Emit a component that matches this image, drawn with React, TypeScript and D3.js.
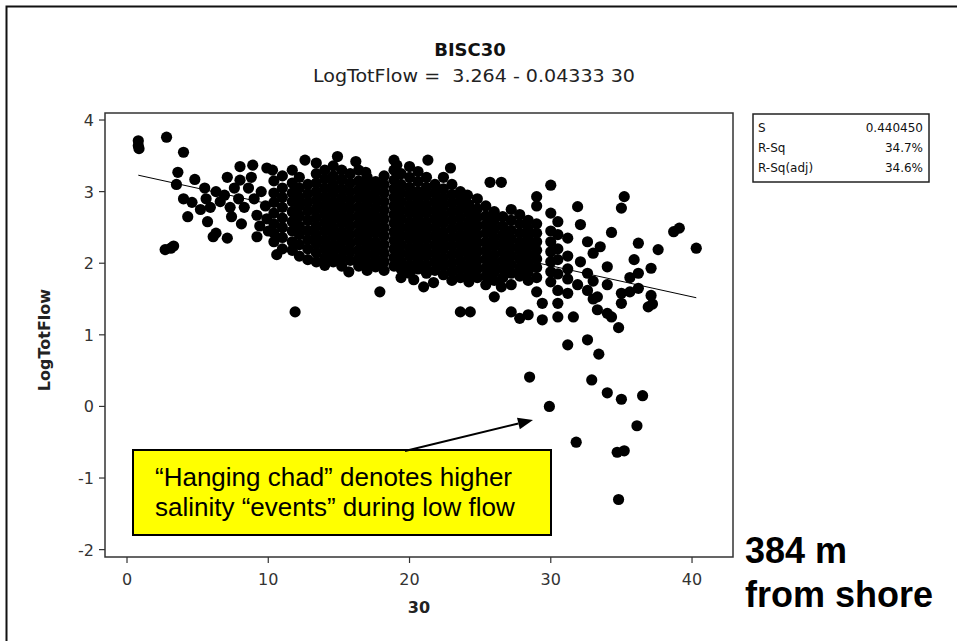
import React from "react";
import * as d3 from "d3";

const titleText = "BISC30";
const subtitleText = "LogTotFlow =  3.264 - 0.04333 30";
const xLabel = "30";
const yLabel = "LogTotFlow";
const xTicks = [0, 10, 20, 30, 40];
const yTicks = [-2, -1, 0, 1, 2, 3, 4];
const intercept = 3.264;
const slope = -0.04333;
const fitRange = [0.8, 40.3];
const statLabels = ["S", "R-Sq", "R-Sq(adj)"];
const statValues = ["0.440450", "34.7%", "34.6%"];
const noteLines = ["\u201CHanging chad\u201D denotes higher", "salinity \u201Cevents\u201D during low flow"];
const sideLines = ["384 m", "from shore"];

// [station value, LogTotFlow]
const leftPoints: [number, number][] = [
  [0.8, 3.71], [0.8, 3.64], [0.85, 3.6], [2.8, 3.76], [2.7, 2.19], [3.1, 2.21], [3.3, 2.24],
  [4.0, 3.55], [3.6, 3.27], [3.5, 3.1], [4.0, 2.9], [4.3, 2.65], [4.8, 3.17], [4.6, 2.85],
  [5.2, 2.75], [5.5, 3.05], [5.7, 2.58], [5.6, 2.9], [5.9, 2.78], [6.1, 2.37], [6.3, 2.42],
  [6.3, 3.0], [6.6, 2.86], [6.9, 2.95], [7.1, 3.2], [7.1, 2.35], [7.4, 2.65], [7.3, 2.78],
  [7.6, 3.05], [8.0, 3.35], [8.0, 3.16], [7.9, 2.9], [8.3, 2.78], [8.1, 2.55], [8.6, 3.05],
  [8.9, 3.37], [8.8, 3.2], [9.2, 2.67], [9.2, 2.37], [9.0, 2.9], [9.5, 3.0], [9.4, 2.52],
  [9.9, 3.33], [9.8, 2.8], [9.9, 2.62], [10.0, 2.45], [10.3, 3.3], [10.6, 2.12],
];

const denseColumns: [number, number[]][] = [
  [10.4, [3.15, 2.98, 2.85, 2.7, 2.55, 2.42, 2.3]],
  [11.0, [3.22, 3.05, 2.92, 2.78, 2.63, 2.5, 2.36, 2.2]],
  [11.7, [3.3, 3.12, 2.98, 2.86, 2.72, 2.58, 2.45, 2.3, 2.18]],
  [11.9, [1.32]],
  [12.2, [3.2, 3.05, 2.92, 2.8, 2.66, 2.52, 2.4, 2.26, 2.1]],
  [12.6, [3.44]],
  [12.8, [3.1, 2.97, 2.85, 2.73, 2.6, 2.46, 2.33, 2.2, 2.05]],
  [13.4, [3.4, 3.25, 3.12, 3.0, 2.88, 2.76, 2.64, 2.52, 2.4, 2.28, 2.15, 2.02]],
  [14.0, [3.3, 3.18, 3.05, 2.93, 2.81, 2.69, 2.57, 2.45, 2.33, 2.21, 2.08, 1.97]],
  [14.6, [3.36, 3.22, 3.1, 2.98, 2.86, 2.74, 2.62, 2.5, 2.38, 2.26, 2.14, 2.02]],
  [14.9, [3.49]],
  [15.2, [3.3, 3.17, 3.04, 2.92, 2.8, 2.68, 2.56, 2.44, 2.32, 2.2, 2.08, 1.96]],
  [15.7, [1.88]],
  [15.8, [3.25, 3.12, 3.0, 2.88, 2.76, 2.64, 2.52, 2.4, 2.28, 2.16, 2.04]],
  [16.2, [3.42]],
  [16.4, [3.3, 3.15, 3.03, 2.91, 2.79, 2.67, 2.55, 2.43, 2.31, 2.19, 2.07, 1.96]],
  [16.9, [3.27]],
  [17.0, [3.2, 3.08, 2.96, 2.84, 2.72, 2.6, 2.48, 2.36, 2.24, 2.12, 2.0, 1.9]],
  [17.6, [3.14, 3.02, 2.9, 2.78, 2.66, 2.54, 2.42, 2.3, 2.18, 2.06, 1.95]],
  [17.9, [1.6]],
  [18.2, [3.22, 3.1, 2.98, 2.86, 2.74, 2.62, 2.5, 2.38, 2.26, 2.14, 2.02, 1.9]],
  [18.9, [3.44, 3.3, 3.16, 3.04, 2.92, 2.8, 2.68, 2.56, 2.44, 2.32, 2.2, 2.08, 1.96]],
  [19.1, [3.37]],
  [19.4, [3.25, 3.1, 2.98, 2.86, 2.74, 2.62, 2.5, 2.38, 2.26, 2.14, 2.02, 1.92, 1.8]],
  [20.0, [3.35, 3.2, 3.06, 2.94, 2.82, 2.7, 2.58, 2.46, 2.34, 2.22, 2.1, 1.98, 1.86]],
  [20.3, [1.77]],
  [20.6, [3.28, 3.14, 3.0, 2.88, 2.76, 2.64, 2.52, 2.4, 2.28, 2.16, 2.04, 1.92]],
  [21.0, [1.67]],
  [21.2, [3.2, 3.06, 2.94, 2.82, 2.7, 2.58, 2.46, 2.34, 2.22, 2.1, 1.98, 1.86]],
  [21.3, [3.44]],
  [21.7, [1.73]],
  [21.8, [3.1, 2.98, 2.86, 2.74, 2.62, 2.5, 2.38, 2.26, 2.14, 2.02, 1.9]],
  [22.4, [3.2, 3.04, 2.92, 2.8, 2.68, 2.56, 2.44, 2.32, 2.2, 2.08, 1.96, 1.84]],
  [22.9, [3.33]],
  [23.0, [3.1, 2.96, 2.84, 2.72, 2.6, 2.48, 2.36, 2.24, 2.12, 2.0, 1.88, 1.76]],
  [23.6, [3.0, 2.88, 2.76, 2.64, 2.52, 2.4, 2.28, 2.16, 2.04, 1.92, 1.8, 1.32]],
  [24.1, [2.95]],
  [24.2, [2.82, 2.7, 2.58, 2.46, 2.34, 2.22, 2.1, 1.98, 1.86, 1.74]],
  [24.3, [1.32]],
  [24.8, [2.9, 2.76, 2.64, 2.52, 2.4, 2.28, 2.16, 2.04, 1.92, 1.8]],
  [25.4, [2.8, 2.66, 2.54, 2.42, 2.3, 2.18, 2.06, 1.94, 1.82, 1.7]],
  [25.7, [3.13]],
  [26.0, [2.72, 2.6, 2.48, 2.36, 2.24, 2.12, 2.0, 1.88, 1.76, 1.53]],
  [26.5, [3.13, 1.67]],
  [26.6, [2.65, 2.52, 2.4, 2.28, 2.16, 2.04, 1.92, 1.8]],
  [27.2, [2.75, 2.6, 2.46, 2.34, 2.22, 2.1, 1.98, 1.86, 1.7, 1.32]],
  [27.8, [2.68, 2.55, 2.42, 2.3, 2.18, 2.06, 1.94, 1.82, 1.23]],
  [28.4, [2.6, 2.48, 2.36, 2.24, 2.12, 2.0, 1.88, 1.76, 1.28]],
  [28.5, [0.41]],
  [29.0, [2.93, 2.8, 2.55, 2.42, 2.3, 2.18, 2.06, 1.94, 1.8, 1.6]],
  [29.4, [1.44, 1.21]],
  [29.9, [0.0]],
  [30.0, [3.09, 2.7, 2.45, 2.3, 2.16, 2.02, 1.88, 1.74]],
  [30.5, [2.58, 2.4, 2.2, 2.05, 1.85, 1.62, 1.44, 1.25]],
  [31.2, [2.35, 2.1, 1.92, 1.78, 1.58, 0.86]],
  [31.6, [1.25]],
  [31.8, [-0.5]],
  [31.9, [2.79, 1.7]],
  [32.1, [2.54, 2.02]],
  [32.6, [2.3, 1.86, 1.62, 0.93]],
  [32.9, [0.37]],
  [33.0, [2.14, 1.75, 1.5]],
  [33.3, [1.53, 1.35]],
  [33.4, [0.73]],
  [33.5, [2.23]],
  [34.0, [1.95, 1.7, 1.3, 0.19]],
  [34.3, [2.43, 1.25]],
  [34.7, [-0.64]],
  [34.8, [1.1, -1.3]],
  [35.0, [2.77, 1.58, 1.44, 0.1]],
  [35.2, [2.93, -0.62]],
  [35.6, [1.8, 1.6]],
  [35.9, [2.05]],
  [36.1, [-0.27]],
  [36.2, [2.28, 1.86, 1.65]],
  [36.5, [0.15]],
  [36.9, [1.39]],
  [37.1, [1.93, 1.55]],
  [37.2, [1.43]],
  [37.6, [2.19]],
  [38.7, [2.44]],
  [39.1, [2.49]],
  [40.3, [2.21]],
];

const W = 957;
const H = 641;
const frame = { left: 105, right: 733, top: 113, bottom: 557 };

export default function App() {
  const x = d3.scaleLinear().domain([-1.558, 42.9]).range([frame.left, frame.right]);
  const y = d3.scaleLinear().domain([4.098, -2.103]).range([frame.top, frame.bottom]);

  const pts: [number, number][] = [...leftPoints];
  denseColumns.forEach(([cx, ys]) => ys.forEach((v) => pts.push([cx, v])));

  const fitLine = d3
    .line<number>()
    .x((d) => x(d))
    .y((d) => y(intercept + slope * d))(fitRange);

  const sans = "'DejaVu Sans', sans-serif";
  const arial = "'Liberation Sans', Arial, sans-serif";
  const ax1 = 405, ay1 = 451, ax2 = 533, ay2 = 420;
  const ang = Math.atan2(ay2 - ay1, ax2 - ax1);
  const hl = 15, hw = 6;
  const bx = ax2 - hl * Math.cos(ang), by = ay2 - hl * Math.sin(ang);
  const head = `M${ax2},${ay2} L${bx - hw * Math.sin(ang)},${by + hw * Math.cos(ang)} L${bx + hw * Math.sin(ang)},${by - hw * Math.cos(ang)} Z`;

  return (
    <div style={{ position: "fixed", left: 0, top: 0, width: W, height: H, background: "#fff" }}>
      <svg width={W} height={H} style={{ display: "block" }}>
        <rect x={0} y={0} width={W} height={H} fill="#fff" />
        <path d={`M6.5,${H} L6.5,6.5 L${W},6.5`} fill="none" stroke="#111" strokeWidth={2} />

        <text x={470} y={56} textAnchor="middle" fontFamily={sans} fontWeight="bold" fontSize={18} fill="#111">
          {titleText}
        </text>
        <text x={474} y={82} textAnchor="middle" fontFamily={sans} fontSize={17} fill="#222"
          textLength={322} lengthAdjust="spacingAndGlyphs" style={{ whiteSpace: "pre" }}>
          {subtitleText}
        </text>

        <rect x={frame.left} y={frame.top} width={frame.right - frame.left} height={frame.bottom - frame.top} fill="none" stroke="#333" strokeWidth={1.5} />

        {yTicks.map((t) => (
          <g key={"y" + t}>
            <line x1={frame.left - 6} x2={frame.left} y1={y(t)} y2={y(t)} stroke="#333" strokeWidth={1.2} />
            <text x={frame.left - 11} y={y(t) + 6} textAnchor="end" fontFamily={sans} fontSize={16} fill="#333">
              {t}
            </text>
          </g>
        ))}
        {xTicks.map((t) => (
          <g key={"x" + t}>
            <line x1={x(t)} x2={x(t)} y1={frame.bottom} y2={frame.bottom + 6} stroke="#333" strokeWidth={1.2} />
            <text x={x(t)} y={frame.bottom + 28} textAnchor="middle" fontFamily={sans} fontSize={16} fill="#333">
              {t}
            </text>
          </g>
        ))}

        <text x={419} y={613} textAnchor="middle" fontFamily={sans} fontWeight="bold" fontSize={16} fill="#222">
          {xLabel}
        </text>
        <text
          transform={`translate(50,${(frame.top + frame.bottom) / 2 + 5}) rotate(-90)`}
          textAnchor="middle"
          fontFamily={sans}
          fontWeight="bold"
          fontSize={16}
          fill="#222"
        >
          {yLabel}
        </text>

        <g>
          {pts.map((p, i) => (
            <circle key={i} cx={x(p[0])} cy={y(p[1])} r={5.6} fill="#000" />
          ))}
        </g>
        <path d={fitLine || ""} fill="none" stroke="#000" strokeWidth={1} />

        <rect x={753} y={114} width={176} height={68} fill="#fff" stroke="#222" strokeWidth={1.5} />
        {statLabels.map((s, i) => (
          <g key={s}>
            <text x={758} y={132 + i * 20} fontFamily={sans} fontSize={12} fill="#111">
              {s}
            </text>
            <text x={923} y={132 + i * 20} textAnchor="end" fontFamily={sans} fontSize={12} fill="#111">
              {statValues[i]}
            </text>
          </g>
        ))}

        <rect x={133} y={450} width={418} height={85} fill="#ffff00" stroke="#000" strokeWidth={2} />
        {noteLines.map((l, i) => (
          <text key={i} x={155} y={486 + i * 30} fontFamily={arial} fontSize={26} fill="#000">
            {l}
          </text>
        ))}
        <line x1={ax1} y1={ay1} x2={bx} y2={by} stroke="#000" strokeWidth={2} />
        <path d={head} fill="#000" />

        {sideLines.map((l, i) => (
          <text key={i} x={745} y={563 + i * 44} fontFamily={arial} fontWeight="bold" fontSize={36} fill="#000">
            {l}
          </text>
        ))}
      </svg>
    </div>
  );
}
